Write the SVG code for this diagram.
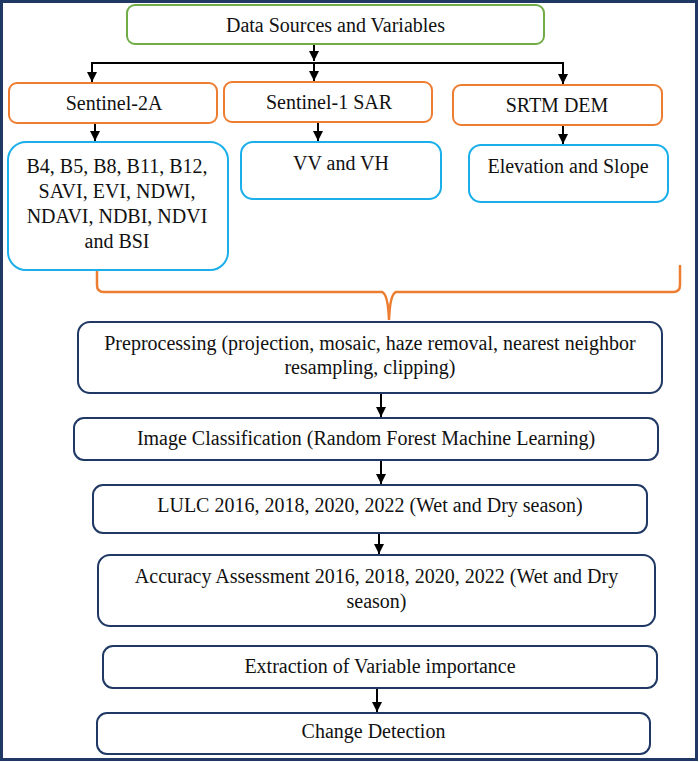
<svg xmlns="http://www.w3.org/2000/svg" width="699" height="762" viewBox="0 0 699 762">
<style>
  text { font-family: "Liberation Serif", "Times New Roman", serif; font-size: 20px; fill: #111; text-anchor: middle; }
  .green { fill: #fff; stroke: #70AD47; stroke-width: 2; }
  .orange { fill: #fff; stroke: #ED7D31; stroke-width: 2; }
  .blue { fill: #fff; stroke: #1AAFEA; stroke-width: 2; }
  .navy { fill: #fff; stroke: #1F3864; stroke-width: 2; }
  .conn { fill: none; stroke: #000; stroke-width: 2; }
  .brace { fill: none; stroke: #ED7D31; stroke-width: 2.5; }
</style>
<defs>
  <marker id="arrow" viewBox="0 0 10 10" refX="10" refY="5" markerWidth="5" markerHeight="5" orient="auto" markerUnits="strokeWidth">
    <path d="M0,0 L10,5 L0,10 Z" fill="#000"/>
  </marker>
</defs>
<rect x="1.5" y="1.5" width="695" height="758" fill="#fff" stroke="#1F3864" stroke-width="3"/>

<g id="connectors">
  <line class="conn" x1="314" y1="44" x2="314" y2="61" marker-end="url(#arrow)"/>
  <polyline class="conn" points="92,82 92,63 563,63 563,84" marker-end="url(#arrow)"/>
  <line class="conn" x1="92" y1="63" x2="92" y2="82" marker-end="url(#arrow)"/>
  <line class="conn" x1="314" y1="63" x2="314" y2="81" marker-end="url(#arrow)"/>
  <line class="conn" x1="95" y1="123" x2="95" y2="141" marker-end="url(#arrow)"/>
  <line class="conn" x1="318" y1="122" x2="318" y2="141" marker-end="url(#arrow)"/>
  <line class="conn" x1="563" y1="125" x2="563" y2="144" marker-end="url(#arrow)"/>
  <path class="brace" d="M97,265 L97,285 Q97,292 104,292 L382,292 Q388,294 389,320 Q390,294 396,292 L673,292 Q680,292 680,285 L680,265"/>
  <line class="conn" x1="381" y1="393" x2="381" y2="417" marker-end="url(#arrow)"/>
  <line class="conn" x1="381" y1="460" x2="381" y2="484" marker-end="url(#arrow)"/>
  <line class="conn" x1="379" y1="533" x2="379" y2="554" marker-end="url(#arrow)"/>
  <line class="conn" x1="377" y1="688" x2="377" y2="712" marker-end="url(#arrow)"/>
</g>

<g id="data-sources">
  <rect class="green" x="127" y="5" width="417" height="39" rx="8"/>
  <text x="335.5" y="32">Data Sources and Variables</text>
</g>
<g id="sentinel-2a">
  <rect class="orange" x="9" y="83" width="208" height="40" rx="8"/>
  <text x="114" y="110">Sentinel-2A</text>
</g>
<g id="sentinel-1">
  <rect class="orange" x="224" y="82" width="208" height="40" rx="8"/>
  <text x="329" y="109">Sentinel-1 SAR</text>
</g>
<g id="srtm">
  <rect class="orange" x="453" y="85" width="209" height="40" rx="8"/>
  <text x="557" y="112">SRTM DEM</text>
</g>
<g id="bands">
  <rect class="blue" x="8" y="142" width="220" height="128" rx="18"/>
  <text x="117" y="173">B4, B5, B8, B11, B12,</text>
  <text x="117" y="198">SAVI, EVI, NDWI,</text>
  <text x="117" y="223">NDAVI, NDBI, NDVI</text>
  <text x="117" y="248">and BSI</text>
</g>
<g id="vv-vh">
  <rect class="blue" x="241" y="142" width="200" height="57" rx="12"/>
  <text x="341" y="170">VV and VH</text>
</g>
<g id="elevation">
  <rect class="blue" x="469" y="145" width="199" height="57" rx="12"/>
  <text x="568" y="173">Elevation and Slope</text>
</g>
<g id="preprocessing">
  <rect class="navy" x="78" y="322" width="584" height="71" rx="12"/>
  <text x="370" y="350">Preprocessing (projection, mosaic, haze removal, nearest neighbor</text>
  <text x="370" y="374">resampling, clipping)</text>
</g>
<g id="classification">
  <rect class="navy" x="74" y="418" width="584" height="42" rx="10"/>
  <text x="366" y="445">Image Classification (Random Forest Machine Learning)</text>
</g>
<g id="lulc">
  <rect class="navy" x="93" y="485" width="554" height="48" rx="10"/>
  <text x="370" y="512">LULC 2016, 2018, 2020, 2022 (Wet and Dry season)</text>
</g>
<g id="accuracy">
  <rect class="navy" x="98" y="555" width="557" height="71" rx="12"/>
  <text x="376.5" y="583">Accuracy Assessment 2016, 2018, 2020, 2022 (Wet and Dry</text>
  <text x="376.5" y="608">season)</text>
</g>
<g id="extraction">
  <rect class="navy" x="103" y="646" width="554" height="42" rx="10"/>
  <text x="380" y="673">Extraction of Variable importance</text>
</g>
<g id="change">
  <rect class="navy" x="97" y="713" width="553" height="41" rx="10"/>
  <text x="373.5" y="738">Change Detection</text>
</g>
</svg>
